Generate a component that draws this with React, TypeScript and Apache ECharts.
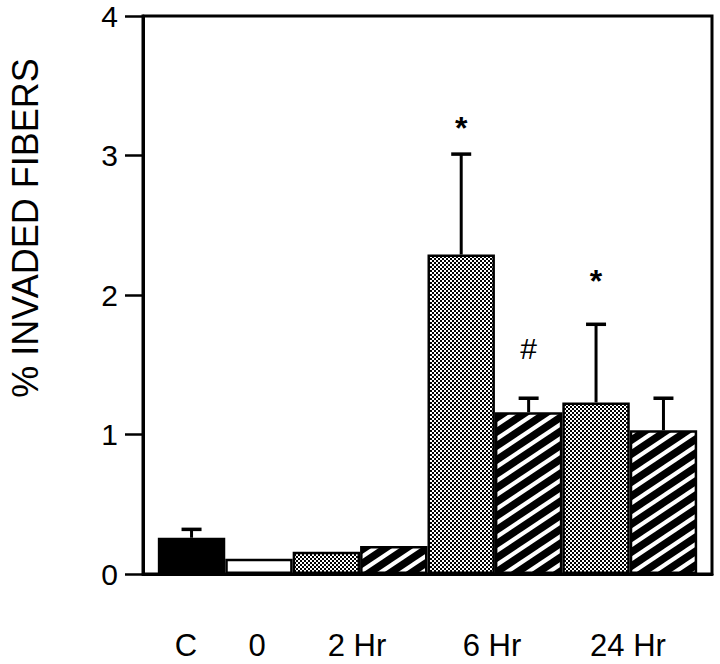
import React, { useEffect, useRef } from 'react';
import * as echarts from 'echarts';

// ---- data ----
const groupLabels = ['C', '0', '2 Hr', '6 Hr', '24 Hr'];
const barKinds = ['solid', 'open', 'dotted', 'hatched', 'dotted', 'hatched', 'dotted', 'hatched'];
const barValues = [0.26, 0.11, 0.16, 0.2, 2.29, 1.16, 1.23, 1.03];
const barErrors = [0.06, 0, 0, 0, 0.72, 0.1, 0.56, 0.23];
const markTexts = ['*', '#', '*'];
const markBars = [4, 5, 6];
const markLevels = [3.2, 1.62, 2.1];
const yTicks = [0, 1, 2, 3, 4];

// ---- layout ----
const FONT = '"Liberation Sans", Arial, Helvetica, sans-serif';
const groupLabelX = [186, 257, 357, 492, 628];

function makeDotted() {
  const c = document.createElement('canvas');
  c.width = 4; c.height = 4;
  const g = c.getContext('2d')!;
  g.fillStyle = '#fff'; g.fillRect(0, 0, 4, 4);
  g.fillStyle = '#000';
  g.fillRect(0, 0, 2, 2);
  g.fillRect(2, 2, 2, 2);
  return c;
}

function makeHatch() {
  const w = 21, h = 14;
  const c = document.createElement('canvas');
  c.width = w; c.height = h;
  const g = c.getContext('2d')!;
  g.fillStyle = '#000'; g.fillRect(0, 0, w, h);
  g.strokeStyle = '#fff';
  g.lineWidth = 4.2;
  for (const dy of [-h, 0, h]) {
    g.beginPath();
    g.moveTo(-w, 2 * h + dy);
    g.lineTo(2 * w, -h + dy);
    g.stroke();
  }
  return c;
}

export default function App() {
  const ref = useRef<HTMLDivElement>(null);
  useEffect(() => {
    const chart = echarts.init(ref.current!, null, { renderer: 'svg' });
    const dotted = { image: makeDotted(), repeat: 'repeat' };
    const hatch = { image: makeHatch(), repeat: 'repeat' };
    const fillFor = (k: string) =>
      k === 'solid' ? '#000' : k === 'open' ? '#fff' : k === 'dotted' ? dotted : hatch;

    const barData = barValues.map((v, i) => ({
      value: [i, v],
      itemStyle: { color: fillFor(barKinds[i]) as any, borderColor: '#000', borderWidth: 2.5 },
    }));
    const errData = barValues
      .map((v, i) => [i, v, v + barErrors[i]])
      .filter((d, i) => barErrors[i] > 0);
    const markData = markTexts.map((t, i) => [markBars[i], markLevels[i], t]);

    chart.setOption({
      animation: false,
      grid: {
        left: 143, right: 8, top: 16, bottom: 90,
        show: true, borderColor: '#000', borderWidth: 3, backgroundColor: 'transparent',
      },
      xAxis: {
        type: 'value', min: -0.72, max: 7.72,
        axisLine: { show: true, onZero: false, lineStyle: { color: '#000', width: 3 } },
        axisTick: { show: false }, axisLabel: { show: false }, splitLine: { show: false },
      },
      yAxis: {
        type: 'value', min: 0, max: 4, interval: 1,
        axisLine: { show: true, onZero: false, lineStyle: { color: '#000', width: 3 } },
        axisTick: { show: true, inside: false, length: 18, lineStyle: { color: '#000', width: 2.5 } },
        axisLabel: {
          color: '#000', fontSize: 30, lineHeight: 26, fontFamily: FONT, margin: 25,
          formatter: (v: number) => (yTicks.includes(v) ? String(v) : ''),
        },
        splitLine: { show: false },
      },
      series: [
        {
          type: 'bar',
          data: barData,
          barWidth: '100%',
          z: 2,
        },
        {
          type: 'custom',
          data: errData,
          z: 3,
          renderItem: (params: any, api: any) => {
            const x = api.value(0);
            const p0 = api.coord([x, api.value(1)]);
            const p1 = api.coord([x, api.value(2)]);
            return {
              type: 'group',
              children: [
                { type: 'line', shape: { x1: p0[0], y1: p0[1], x2: p1[0], y2: p1[1] }, style: { stroke: '#000', lineWidth: 3 } },
                { type: 'line', shape: { x1: p1[0] - 10, y1: p1[1], x2: p1[0] + 10, y2: p1[1] }, style: { stroke: '#000', lineWidth: 3.5 } },
              ],
            };
          },
        },
        {
          type: 'custom',
          data: markData,
          z: 3,
          renderItem: (params: any, api: any) => {
            const p = api.coord([api.value(0), api.value(1)]);
            const t = markData[params.dataIndex][2] as string;
            return {
              type: 'text',
              x: p[0], y: p[1],
              style: {
                text: t, fill: '#000', fontFamily: FONT,
                fontSize: t === '*' ? 32 : 30, fontWeight: t === '*' ? 'bold' : 'normal',
                align: 'center', verticalAlign: 'middle',
              },
            };
          },
        },
      ],
      graphic: [
        {
          type: 'text', x: 25, y: 228, rotation: Math.PI / 2,
          style: {
            text: '% INVADED FIBERS', fill: '#000', fontSize: 36, fontFamily: FONT,
            align: 'center', verticalAlign: 'middle',
          },
        },
        ...groupLabels.map((l, i) => ({
          type: 'text', x: groupLabelX[i], y: 645,
          style: { text: l, fill: '#000', fontSize: 31, fontFamily: FONT, align: 'center', verticalAlign: 'middle' },
        })),
      ],
    });
    return () => chart.dispose();
  }, []);
  return <div ref={ref} style={{ width: 720, height: 664, position: 'absolute', left: 0, top: 0 }} />;
}
